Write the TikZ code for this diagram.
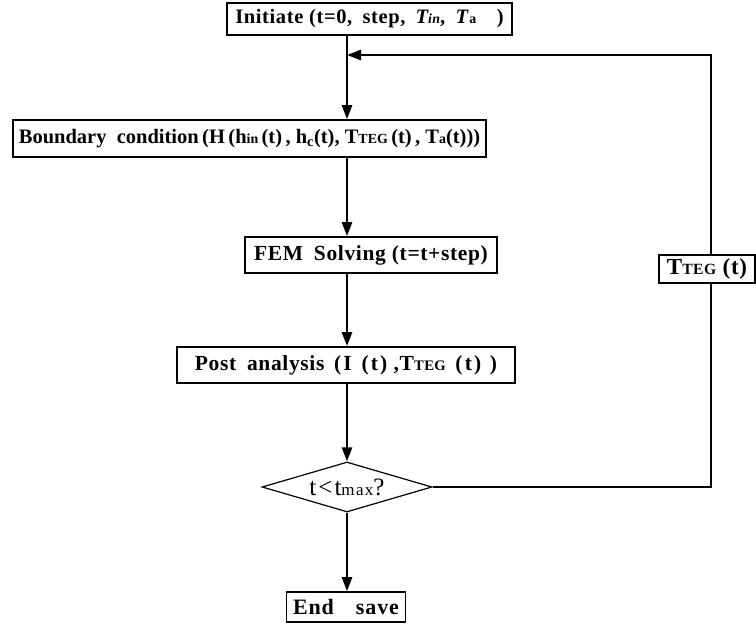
\documentclass[tikz,border=0pt]{standalone}
\usepackage{fontspec}
\setmainfont{Liberation Serif}
\usetikzlibrary{shapes.geometric,arrows.meta}
\makeatletter
\newcommand{\smt}[1]{{\fontsize{\fpeval{round(0.68*\f@size,1)}}{1}\selectfont #1}}
\makeatother
\newcommand{\lp}{\hspace{0.28em}(}
\newcommand{\rp}{)\hspace{0.2em}}
\newcommand{\wlp}{\hspace{0.45em}(\hspace{0.1em}}
\newcommand{\wrp}{\hspace{0.1em})\hspace{0.3em}}
\begin{document}
\begin{tikzpicture}[x=1pt,y=-1pt,
  box/.style={draw,line width=1.6pt,inner sep=0pt,font=\bfseries},
  dia/.style={draw,diamond,aspect=3.4,line width=1.2pt,inner sep=0pt},
  arr/.style={line width=2.6pt,-{Triangle[length=14pt,width=10pt]}},
  ln/.style={line width=2.6pt}]
\useasboundingbox (0,0) rectangle (756,626);
\coordinate (m) at (347,0);
\node[box,minimum width=285pt,minimum height=32pt,
  font=\bfseries\fontsize{20.5}{22}\selectfont\addfontfeature{LetterSpace=3}] (init) at (369.5,19)
  {Initiate\lp t=0,\enspace step,\enspace \textit{T\smt{in}},\enspace \textit{T}\smt{a}\quad\rp};
\node[box,minimum width=473pt,minimum height=37pt,
  font=\bfseries\fontsize{20.5}{22}\selectfont] (bound) at (249.5,138.5)
  {Boundary\enspace condition\,(H\,(h\smt{in}\,(t)\,, h\textsubscript{c}(t), T\smt{TEG}\,(t)\,, T\smt{a}(t)))};
\node[box,minimum width=252pt,minimum height=36pt,
  font=\bfseries\fontsize{21.5}{24}\selectfont\addfontfeature{LetterSpace=3}] (fem) at (371,255)
  {FEM\enspace Solving\lp t=t+step)};
\node[box,minimum width=338pt,minimum height=36pt,
  font=\bfseries\fontsize{21.5}{24}\selectfont\addfontfeature{LetterSpace=3}] (post) at (346,365)
  {Post\enspace analysis\wlp I\wlp t\wrp,T\smt{TEG}\wlp t\wrp\wrp};
\node[dia,minimum width=170pt,minimum height=50pt,
  font=\fontsize{25}{27}\selectfont\addfontfeature{LetterSpace=8}] (cond) at (347,487)
  {t<t\smt{max}?};
\node[box,minimum width=119pt,minimum height=30pt,
  font=\bfseries\fontsize{22}{24}\selectfont\addfontfeature{LetterSpace=4}] (end) at (346,607)
  {End\quad save};
\node[box,minimum width=96pt,minimum height=28pt,
  font=\bfseries\fontsize{23}{25}\selectfont\addfontfeature{LetterSpace=3}] (teg) at (707,269)
  {T\smt{TEG}\lp t)};
\coordinate (lp) at (347,55);
\coordinate (rc) at (711,55);
\draw[arr] (init.south -| m) -- (bound.north -| m);
\draw[arr] (bound.south -| m) -- (fem.north -| m);
\draw[arr] (fem.south -| m) -- (post.north -| m);
\draw[arr] (post.south -| m) -- (cond.north);
\draw[arr] (cond.south) -- (end.north -| m);
\draw[ln] (cond.east) -- (cond.east -| rc) -- (teg.south -| rc);
\draw[arr] (teg.north -| rc) -- (rc) -- (lp);
\end{tikzpicture}
\end{document}
